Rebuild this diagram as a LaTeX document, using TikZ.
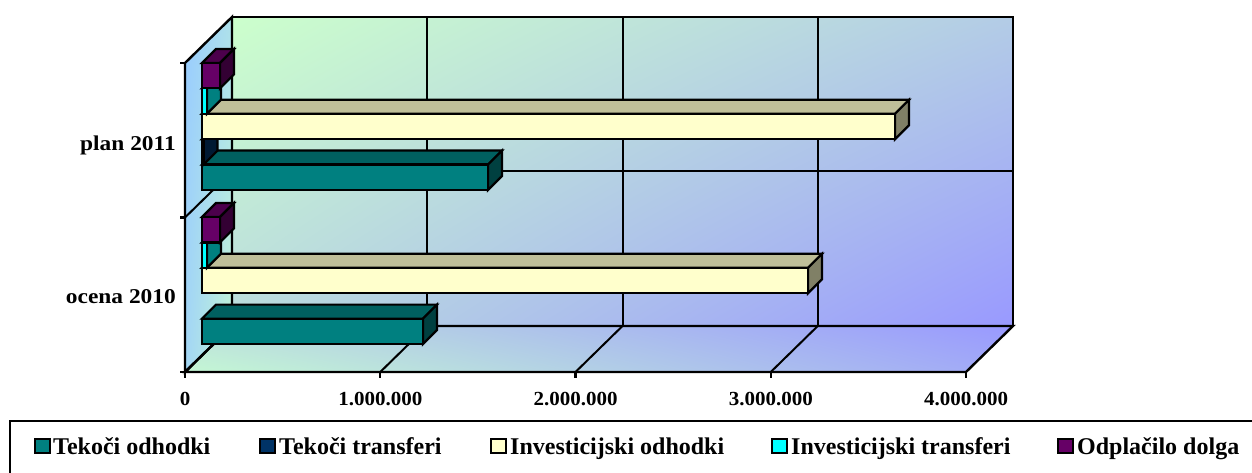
\documentclass[tikz,border=0pt]{standalone}
\usepackage{fontspec}
\setmainfont{Liberation Serif}
\usetikzlibrary{shadings}
\definecolor{cTO}{HTML}{008080}
\definecolor{cTT}{HTML}{003366}
\definecolor{cIO}{HTML}{FFFFCC}
\definecolor{cIT}{HTML}{00FFFF}
\definecolor{cOD}{HTML}{660066}
\definecolor{wGreen}{HTML}{CCFFCC}
\definecolor{wMid}{HTML}{B3CCE6}
\definecolor{wBlue}{HTML}{9999FF}
\definecolor{wSky}{HTML}{99CCFF}
\newcommand{\barthreed}[5]{%
  \filldraw[barline,fill=#5!75!black] (#1,#3) -- (#1+14,#3-14) -- (#2+14,#3-14) -- (#2,#3) -- cycle;
  \filldraw[barline,fill=#5!50!black] (#2,#3) -- (#2+14,#3-14) -- (#2+14,#4-14) -- (#2,#4) -- cycle;
  \filldraw[barline,fill=#5] (#1,#3) rectangle (#2,#4);
}
\newcommand{\sqtext}[2]{\scalebox{1}[#1]{#2}}
\begin{document}
\begin{tikzpicture}[x=1pt,y=-1pt,
  frame/.style={line width=2.4pt},
  grid/.style={line width=2pt},
  barline/.style={line width=2.2pt},
  axlab/.style={font=\fontsize{21}{24}\selectfont\bfseries, inner sep=0pt, anchor=base},
  catlab/.style={font=\fontsize{23.4}{26}\selectfont\bfseries, inner sep=0pt, anchor=base east},
  leglab/.style={font=\fontsize{24}{27}\selectfont\bfseries, inner sep=0pt, anchor=base west},
  legsq/.style={line width=2.2pt}]
\clip (0,0) rectangle (1252,473);
\fill[white] (0,0) rectangle (1252,473);
% walls
\shade[upper left=wGreen, upper right=wMid, lower left=wMid!70!wGreen, lower right=wBlue]
  (232,17) rectangle (1013,326);
\shade[upper left=wSky, upper right=wSky!60!wGreen, lower left=wSky!80!wGreen, lower right=wGreen!80!wSky]
  (185,63) -- (232,17) -- (232,326) -- (185,372) -- cycle;
\shade[upper left=wMid!60!wGreen, upper right=wBlue, lower left=wGreen!85!wSky, lower right=wBlue!70!wMid]
  (185,372) -- (232,326) -- (1013,326) -- (966,372) -- cycle;
% gridlines
\foreach \k in {1,2,3} {
  \draw[grid] ({232+\k*195.25},17) -- ({232+\k*195.25},326);
  \draw[grid] ({185+\k*195.25},372) -- ({232+\k*195.25},326);
}
\draw[grid] (232,171.5) -- (1013,171.5);
\draw[grid] (185,217.5) -- (232,171.5);
% frames
\draw[frame] (232,17) rectangle (1013,326);
\draw[frame] (185,63) -- (232,17) -- (232,326) -- (185,372) -- cycle;
\draw[frame] (185,372) -- (232,326) -- (1013,326) -- (966,372) -- cycle;
% ticks
\foreach \k in {0,1,2,3,4} \draw[frame] ({185+\k*195.25},372) -- ({185+\k*195.25},378);
\foreach \y in {63,217.5,372} \draw[frame] (180,\y) -- (185,\y);
% bars ocena 2010
\barthreed{202}{423}{318.6}{344}{cTO}
\barthreed{202}{808}{267.8}{293.2}{cIO}
\barthreed{202}{207}{242.4}{267.8}{cIT}
\barthreed{202}{220}{217}{242.4}{cOD}
% bars plan 2011
\barthreed{202}{488}{164.6}{190}{cTO}
\barthreed{202}{203.5}{139.2}{164.6}{cTT}
\barthreed{202}{895}{113.8}{139.2}{cIO}
\barthreed{202}{207}{88.4}{113.8}{cIT}
\barthreed{202}{220}{63}{88.4}{cOD}
% axis labels
\node[axlab] (l0) at (185,405) {\sqtext{0.95}{0}};
\node[axlab] (l1) at (380.25,405) {\sqtext{0.95}{1.000.000}};
\node[axlab] (l2) at (575.5,405) {\sqtext{0.95}{2.000.000}};
\node[axlab] (l3) at (770.75,405) {\sqtext{0.95}{3.000.000}};
\node[axlab] (l4) at (966,405) {\sqtext{0.95}{4.000.000}};
\node[catlab] (c1) at (176,151) {\sqtext{0.9}{plan 2011}};
\node[catlab] (c0) at (176,303.5) {\sqtext{0.9}{ocena 2010}};
% legend
\draw[line width=2.8pt] (10,421) rectangle (1270,490);
\draw[legsq, fill=cTO] (35,439) rectangle (50,453);
\node[leglab] (t1) at (53,454.3) {Tekoči odhodki};
\draw[legsq, fill=cTT] (260,439) rectangle (275,453);
\node[leglab] (t2) at (279,454.3) {Tekoči transferi};
\draw[legsq, fill=cIO] (491,439) rectangle (506,453);
\node[leglab] (t3) at (510,454.3) {Investicijski odhodki};
\draw[legsq, fill=cIT] (772,439) rectangle (787,453);
\node[leglab] (t4) at (791,454.3) {Investicijski transferi};
\draw[legsq, fill=cOD] (1058,439) rectangle (1073,453);
\node[leglab] (t5) at (1077,454.3) {Odplačilo dolga};
\end{tikzpicture}
\end{document}
